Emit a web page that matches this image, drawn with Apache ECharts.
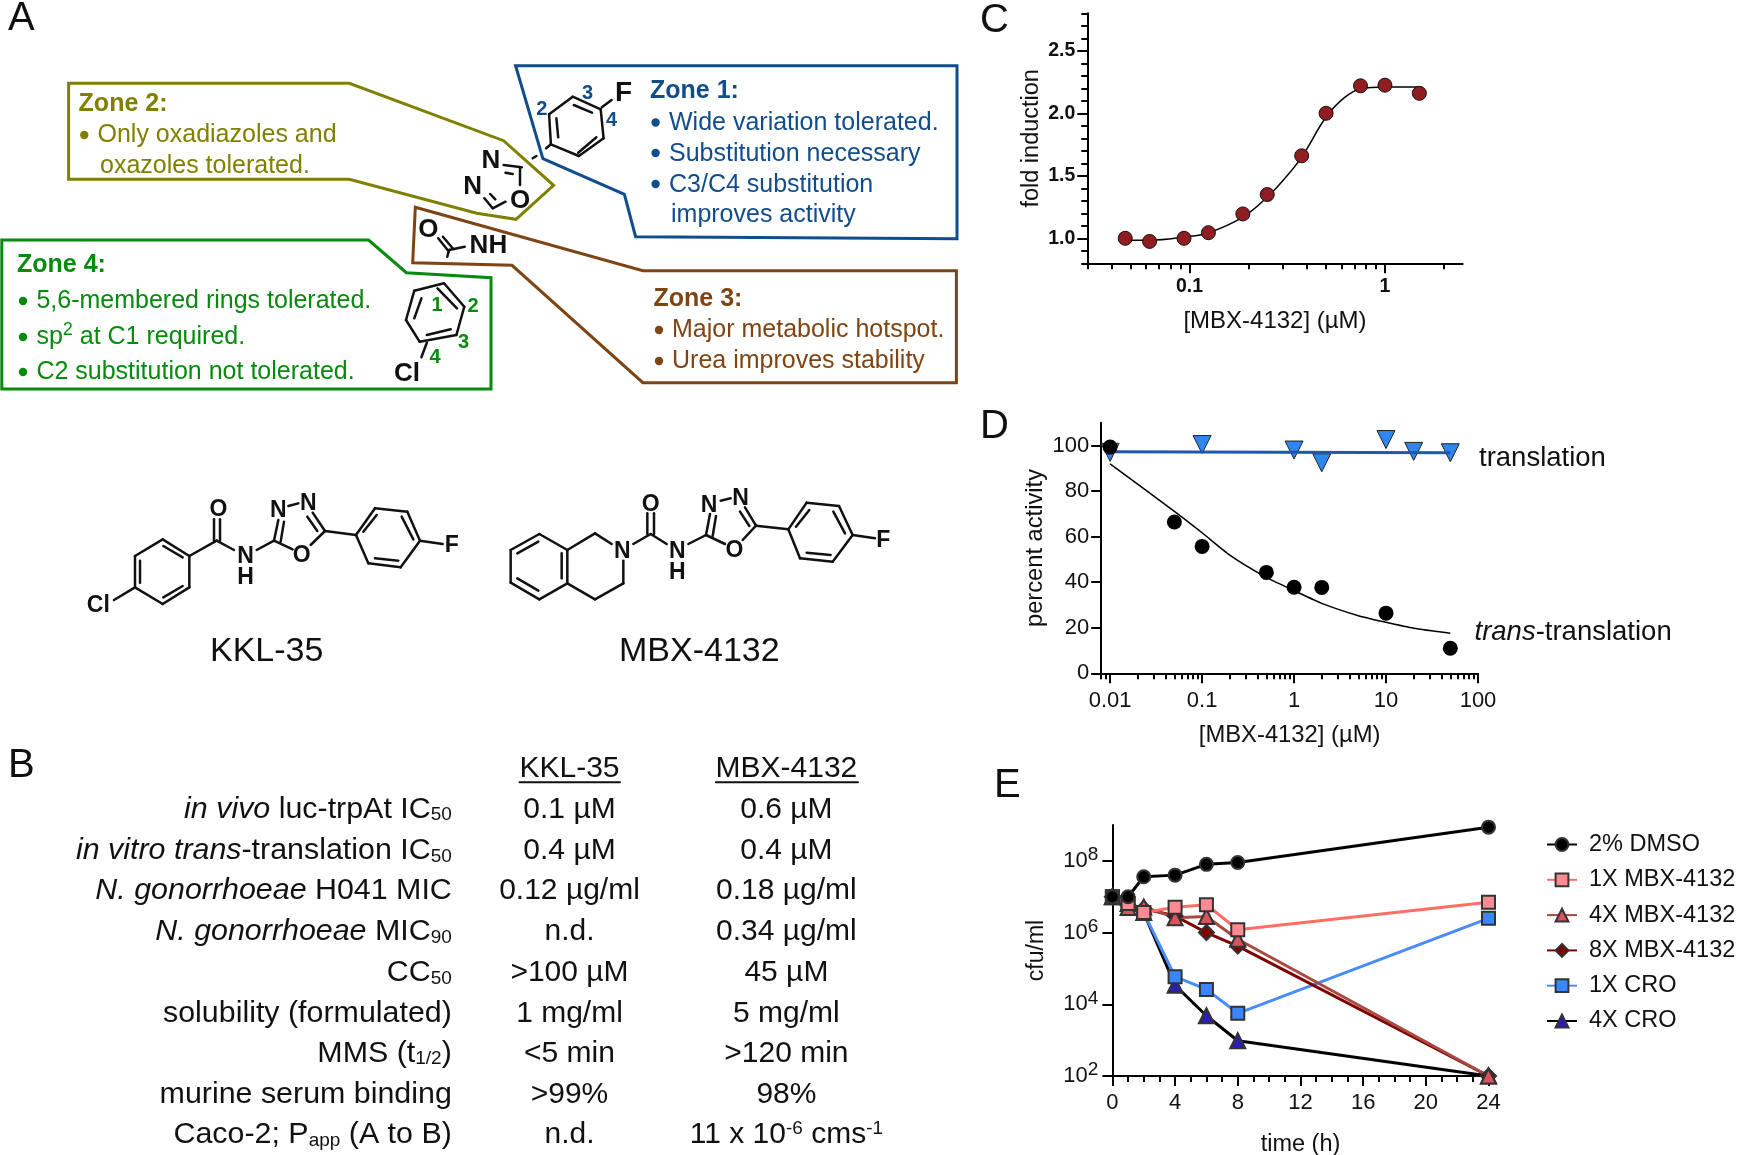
<!DOCTYPE html>
<html>
<head>
<meta charset="utf-8">
<style>html,body{margin:0;padding:0;background:#fff}#c{width:1738px;height:1155px}</style>
<script src="https://cdn.jsdelivr.net/npm/echarts@6/dist/echarts.min.js"></script>
</head>
<body>
<div id="c"></div>
<script>
// ---------- Panel C data ----------
const cDose = [0.0469,0.0625,0.09375,0.125,0.1875,0.25,0.375,0.5,0.75,1,1.5];
const cFold = [1.00,0.975,1.00,1.045,1.195,1.35,1.66,2.00,2.22,2.225,2.16];
const cFitDose = [0.0469,0.0625,0.09375,0.125,0.1875,0.25,0.3,0.375,0.5,0.62,0.75,1,1.5];
const cFitFold = [0.985,0.985,1.01,1.045,1.17,1.33,1.46,1.65,1.97,2.125,2.195,2.21,2.21];
const cXMajor = [0.1,1];
const cXMinor = [0.03,0.04,0.05,0.06,0.07,0.08,0.09,0.2,0.3,0.4,0.5,0.6,0.7,0.8,0.9,2];
const cYMajor = [1.0,1.5,2.0,2.5];
const cYMinor = [0.8,0.9,1.1,1.2,1.3,1.4,1.6,1.7,1.8,1.9,2.1,2.2,2.3,2.4,2.6,2.7,2.8];
// ---------- Panel D data ----------
const dTransDose = [0.01,0.05,0.1,0.5,1,2,10,50];
const dTransPct = [99.3,66.4,55.7,44.3,37.8,37.7,26.4,11];
const dFitDose = [0.01,0.05,0.1,0.2,0.5,1,2,5,10,20,50];
const dFitPct = [91.9,71.1,61.7,51.9,42.1,36.3,30.7,25.3,22.4,19.8,17.6];
const dTranslDose = [0.01,0.1,1,2,10,20,50];
const dTranslPct = [97,100.4,98,92.4,102.6,97.4,96.8];
const dTranslFitDose = [0.01,50];
const dTranslFitPct = [97.3,96.8];
const dXMajor = [0.01,0.1,1,10,100];
const dXMinor = [0.008,0.009,0.02,0.03,0.04,0.05,0.06,0.07,0.08,0.09,0.2,0.3,0.4,0.5,0.6,0.7,0.8,0.9,2,3,4,5,6,7,8,9,20,30,40,50,60,70,80,90];
const dYMajor = [0,20,40,60,80,100];
// ---------- Panel E data ----------
const eHours = [0,1,2,4,6,8,24];
const eDmso = [1e7,1e7,3.6e7,4e7,8e7,9e7,8.7e8];
const eMbx1 = [1e7,6.5e6,3.6e6,5.1e6,6e6,1.2e6,7e6];
const eMbx4 = [1e7,5e6,5.2e6,2.6e6,2.8e6,6.5e5,100];
const eMbx8 = [1e7,5.8e6,4.7e6,2.9e6,1e6,4.2e5,100];
const eCro1 = [1e7,6.5e6,3.6e6,5.9e4,2.6e4,5.6e3,2.5e6];
const eCro4 = [1e7,6.5e6,3.6e6,3.4e4,4.8e3,9.6e2,100];
const eLegend = ['2% DMSO','1X MBX-4132','4X MBX-4132','8X MBX-4132','1X CRO','4X CRO'];
const eXMajor = [0,4,8,12,16,20,24];
const eXMinor = [1,2,3,5,6,7,9,10,11,13,14,15,17,18,19,21,22,23];
const eYMajor = [1e2,1e4,1e6,1e8];
// ---------- Panel B table ----------
const tableHead = ['KKL-35','MBX-4132'];
const tableLabels = ['{i|in vivo} luc-trpAt IC{s|50}','{i|in vitro trans}-translation IC{s|50}','{i|N. gonorrhoeae} H041 MIC','{i|N. gonorrhoeae} MIC{s|90}','CC{s|50}','solubility (formulated)','MMS (t{s|1/2})','murine serum binding','Caco-2; P{s|app} (A to B)'];
const tableKkl = ['0.1 µM','0.4 µM','0.12 µg/ml','n.d.','>100 µM','1 mg/ml','<5 min','>99%','n.d.'];
const tableMbx = ['0.6 µM','0.4 µM','0.18 µg/ml','0.34 µg/ml','45 µM','5 mg/ml','>120 min','98%','11 x 10{u|-6} cms{u|-1}'];

// ---------- drawing helpers ----------
const FF = "'Liberation Sans', Arial, sans-serif";
const INK = '#111';
const gfx = [];
function T(text,x,y,o){o=o||{};
  gfx.push({type:'text',x:x,y:y+(o.dy===undefined?2:o.dy),silent:true,z:20,style:{text:text,
    font:(o.italic?'italic ':'')+(o.bold?'bold ':'')+(o.size||25)+'px '+FF,
    fill:o.color||INK,align:o.align||'left',verticalAlign:'middle',rich:o.rich}});
}
function L(x1,y1,x2,y2,c,w){gfx.push({type:'line',silent:true,z:15,shape:{x1,y1,x2,y2},style:{stroke:c||INK,lineWidth:w||2.5,lineCap:'round'}});}
function P(points,c){gfx.push({type:'polygon',silent:true,z:10,shape:{points},style:{fill:'none',stroke:c,lineWidth:3,lineJoin:'miter'}});}
function D(x,y,c){gfx.push({type:'circle',silent:true,z:20,shape:{cx:x,cy:y,r:4.2},style:{fill:c}});}
function ring(v,c,w){for(let i=0;i<v.length;i++){const a=v[i],b=v[(i+1)%v.length];L(a[0],a[1],b[0],b[1],c,w);}}

// ---------- Panel letters ----------
const letterSize = 40;
[['A',8,16],['B',8,763],['C',980,18],['D',980,424],['E',994,783]].forEach(a=>T(a[0],a[1],a[2],{size:letterSize,dy:3}));

// ---------- Panel A zones ----------
const OLIVE='#808000',GREEN='#078a0e',BROWN='#7f4413',BLUE='#114c8b';
P([[68.6,83.3],[349.3,83.3],[503.6,140.7],[553.6,185.3],[516,219.3],[476.8,213.3],[349.3,179.3],[68.6,179.3]],OLIVE);
P([[1.8,240],[368.6,240],[406.4,272.7],[491,277.7],[491,389],[1.8,389]],GREEN);
P([[415.3,207.3],[642.9,270.7],[956.4,270.7],[956.4,382.7],[642.9,382.7],[512,265.3],[412.7,262.7]],BROWN);
P([[515.6,65.7],[957,65.7],[957,238.7],[635.6,236.7],[624.4,194.3],[542.9,158.7]],BLUE);

T('Zone 2:',78.6,101.7,{bold:true,color:OLIVE});
D(84.3,135,OLIVE);T('Only oxadiazoles and',97.5,133.3,{color:OLIVE});T('oxazoles tolerated.',100,164,{color:OLIVE});

T('Zone 4:',17,263.3,{bold:true,color:GREEN});
D(23,301,GREEN);T('5,6-membered rings tolerated.',36.4,299.3,{color:GREEN});
D(23,337,GREEN);T('sp{u|2} at C1 required.',36.4,335,{color:GREEN,rich:{u:{font:'18px '+FF,padding:[0,0,14,0]}}});
D(23,372,GREEN);T('C2 substitution not tolerated.',36.4,370,{color:GREEN});

T('Zone 3:',653.5,296.7,{bold:true,color:BROWN});
D(659,330,BROWN);T('Major metabolic hotspot.',672,328.3,{color:BROWN});
D(659,361,BROWN);T('Urea improves stability',672,359.3,{color:BROWN});

T('Zone 1:',650,89.3,{bold:true,color:BLUE});
D(655.6,122.5,BLUE);T('Wide variation tolerated.',669,121,{color:BLUE});
D(655.6,153,BLUE);T('Substitution necessary',669,151.7,{color:BLUE});
D(655.6,184,BLUE);T('C3/C4 substitution',669,182.7,{color:BLUE});
T('improves activity',671,214,{color:BLUE,dy:1});

// Zone 1 fragment
ring([[549.1,114.3],[572.7,96.7],[600.7,109.3],[603.6,138.3],[578.9,156],[550.9,144.3]]);
L(573.8,105,592,112.7);L(556.4,118.3,558.2,137.3);L(578.2,152.7,596.4,137.3);L(601.8,107.3,611.6,100);L(550.9,144.3,546.2,148.3);L(532.7,158.3,536.4,156);
T('F',623.6,91,{bold:true,size:28,align:'center'});
T('3',587.6,91.7,{bold:true,size:20,color:BLUE,align:'center'});T('2',541.8,107.3,{bold:true,size:20,color:BLUE,align:'center'});T('4',611.6,118.3,{bold:true,size:20,color:BLUE,align:'center'});
// Zone 2 fragment
L(503.6,165,521.8,167.3);L(505.5,172.7,512.7,174);L(520,167.3,520,185);L(505.5,201.7,492.7,208.3);L(492.7,208.3,484.4,198.3);L(490.2,194,495.3,199.3);
T('N',490.9,159.3,{bold:true,size:26,align:'center'});T('N',472.7,185,{bold:true,size:26,align:'center'});T('O',520,199,{bold:true,size:26,align:'center'});
// Zone 3 fragment
L(449,251.7,438.2,238.3);L(442.9,236.7,452.7,248.3);L(449,250,464.7,246.7);L(449,250,447.3,256.7);
T('O',428.4,228.3,{bold:true,size:26,align:'center'});T('NH',488.4,244,{bold:true,size:26,align:'center'});
// Zone 4 fragment
ring([[444,283.3],[464.3,306.7],[456.4,335],[419.6,341.7],[406,320],[414.3,290.7]]);
L(437.5,288.3,457,308.3);L(426.8,335,450.7,329.3);L(421.4,298.3,414.3,318.3);L(426.8,342.7,421.4,357.3);
T('Cl',407,371.7,{bold:true,size:26,align:'center'});
T('1',437,303,{bold:true,size:20,color:GREEN,align:'center'});T('2',473,304,{bold:true,size:20,color:GREEN,align:'center'});T('3',463.6,340,{bold:true,size:20,color:GREEN,align:'center'});T('4',435,355,{bold:true,size:20,color:GREEN,align:'center'});

// ---------- Structures (3x crop coordinates scaled back) ----------
function S(ox,oy){return{
  l:(a,b,c,d)=>L(ox+a/3,oy+b/3,ox+c/3,oy+d/3),
  r:(v)=>ring(v.map(p=>[ox+p[0]/3,oy+p[1]/3])),
  t:(s,a,b)=>T(s,ox+a/3,oy+b/3,{bold:true,size:23,align:'center'})
};}
const k=S(70,470);
k.r([[195,258],[278,208],[358,258],[358,352],[278,402],[195,352]]);
k.l(210,272,210,338);k.l(280,228,338,262);k.l(280,382,338,348);k.l(195,352,132,390);k.t('Cl',85,400);
k.l(358,258,440,212);k.l(432,212,432,148);k.l(450,212,450,148);k.t('O',445,113);
k.l(440,212,492,240);k.t('N',527,255);k.t('H',527,318);k.l(560,240,612,212);
k.l(612,212,625,150);k.l(632,215,642,155);k.t('N',625,115);k.l(655,108,685,100);k.t('N',715,95);
k.l(765,183,728,128);k.l(742,183,712,140);k.l(765,183,722,225);k.t('O',695,250);k.l(612,212,668,238);
k.l(765,183,858,195);
k.r([[858,195],[915,115],[1012,125],[1050,212],[992,292],[895,280]]);
k.l(880,185,920,135);k.l(995,140,1030,208);k.l(915,265,985,272);k.l(1050,212,1118,222);k.t('F',1145,222);
T('KKL-35',70+590/3,470+540/3,{size:34,align:'center'});

const m=S(490,470);
m.r([[62,240],[148,192],[232,240],[232,340],[148,388],[62,338]]);
m.l(82,250,145,215);m.l(215,250,215,325);m.l(82,325,145,362);
m.l(232,240,315,190);m.l(315,190,365,222);m.t('N',397,240);m.l(400,272,400,340);m.l(400,340,315,388);m.l(315,388,232,340);
m.l(430,222,482,192);m.l(472,192,472,130);m.l(492,192,492,130);m.t('O',482,97);
m.l(482,192,530,222);m.t('N',562,240);m.t('H',562,303);m.l(595,222,648,195);
m.l(648,195,660,132);m.l(668,198,678,138);m.t('N',657,100);m.l(692,92,722,85);m.t('N',752,80);
m.l(798,167,765,112);m.l(778,168,750,125);m.l(798,167,758,210);m.t('O',733,235);m.l(648,195,705,222);
m.l(798,167,895,178);
m.r([[895,178],[950,98],[1047,108],[1088,195],[1028,275],[930,265]]);
m.l(918,170,958,120);m.l(1030,125,1065,190);m.l(950,248,1022,255);m.l(1088,195,1155,205);m.t('F',1180,205);
T('MBX-4132',490+628/3,470+540/3,{size:34,align:'center'});

// ---------- Panel B table ----------
const tblRich={i:{font:'italic 30.4px '+FF},s:{font:'19px '+FF,padding:[11,0,0,0]},u:{font:'19px '+FF,padding:[0,0,13,0]}};
const rowY=[808.5,850,890,931,972,1012.7,1052.7,1093.3,1134];
const colX=[569.5,786.4];
T(tableHead[0],colX[0],767.3,{size:30,align:'center',dy:1});T(tableHead[1],colX[1],767.3,{size:30,align:'center',dy:1});
L(519.5,782.3,620,782.3,INK,2);L(715.9,782.3,858,782.3,INK,2);
tableLabels.forEach((s,i)=>{
  T(s,451.8,rowY[i],{size:30.4,align:'right',rich:tblRich,dy:1});
  T(tableKkl[i],colX[0],rowY[i],{size:30,align:'center',rich:tblRich,dy:1});
  T(tableMbx[i],colX[1],rowY[i],{size:30,align:'center',rich:tblRich,dy:1});
});
// ---------- Panel D annotations ----------
T('translation',1479,456.7,{size:27.5});
T('{i|trans}-translation',1474.5,630,{size:27.5,rich:{i:{font:'italic 27.5px '+FF}}});

// ---------- axes ----------
const line={show:true,onZero:false,lineStyle:{color:'#000',width:2}};
function tick(vals,len){return{show:true,length:len,customValues:vals,lineStyle:{color:'#000',width:2}};}
function major(o){return Object.assign({splitLine:{show:false},axisLine:line,nameLocation:'middle',
  nameTextStyle:{fontFamily:FF,color:INK}},o);}
function minor(o){return Object.assign({splitLine:{show:false},axisLine:{show:false,onZero:false},axisLabel:{show:false}},o);}
function lbl(vals,size,margin,bold,extra){return Object.assign({show:true,customValues:vals,fontFamily:FF,fontSize:size,margin:margin,color:INK,
  fontWeight:bold?'bold':'normal',hideOverlap:false,showMinLabel:true,showMaxLabel:true},extra||{});}

const xAxis=[
 major({gridIndex:0,type:'log',logBase:10,min:0.03,max:2.5,position:'bottom',axisTick:tick(cXMajor,10),
   axisLabel:lbl(cXMajor,19.5,13.5,true,{formatter:v=>String(v)}),name:'[MBX-4132] (µM)',nameGap:46,nameTextStyle:{fontFamily:FF,color:INK,fontSize:24}}),
 minor({gridIndex:0,type:'log',logBase:10,min:0.03,max:2.5,position:'bottom',axisTick:tick(cXMinor,6)}),
 major({gridIndex:1,type:'log',logBase:10,min:0.008,max:100,position:'bottom',axisTick:tick(dXMajor,10),
   axisLabel:lbl(dXMajor,22,17,false,{formatter:v=>String(v)}),name:'[MBX-4132] (µM)',nameGap:50,nameTextStyle:{fontFamily:FF,color:INK,fontSize:23.8}}),
 minor({gridIndex:1,type:'log',logBase:10,min:0.008,max:100,position:'bottom',axisTick:tick(dXMinor,6)}),
 major({gridIndex:2,type:'value',min:0,max:24,position:'bottom',axisTick:tick(eXMajor,10),
   axisLabel:lbl(eXMajor,22,15.7,false),name:'time (h)',nameGap:57,nameTextStyle:{fontFamily:FF,color:INK,fontSize:23.5}}),
 minor({gridIndex:2,type:'value',min:0,max:24,position:'bottom',axisTick:tick(eXMinor,6)})
];
const yAxis=[
 major({gridIndex:0,type:'value',min:0.8,max:2.8,position:'left',axisTick:tick(cYMajor,10),
   axisLabel:lbl(cYMajor,19.5,12,true,{formatter:v=>v.toFixed(1)}),name:'fold induction',nameGap:44,nameTextStyle:{fontFamily:FF,color:INK,fontSize:23.5}}),
 minor({gridIndex:0,type:'value',min:0.8,max:2.8,position:'left',axisTick:tick(cYMinor,6)}),
 major({gridIndex:1,type:'value',min:0,max:110,position:'left',axisTick:tick(dYMajor,10),
   axisLabel:lbl(dYMajor,22,12,false),name:'percent activity',nameGap:54,nameTextStyle:{fontFamily:FF,color:INK,fontSize:23.7}}),
 major({gridIndex:2,type:'log',logBase:10,min:100,max:1e9,position:'left',axisTick:tick(eYMajor,10),
   axisLabel:lbl(eYMajor,22,14,false,{formatter:v=>'{b|10}{s|'+Math.round(Math.log10(v))+'}',
     rich:{b:{fontFamily:FF,fontSize:22,color:INK},s:{fontFamily:FF,fontSize:19,color:INK,padding:[0,0,12,0]}}}),
   name:'cfu/ml',nameGap:64,nameTextStyle:{fontFamily:FF,color:INK,fontSize:23}})
];
const zip=(a,b)=>a.map((v,i)=>[v,b[i]]);
const eSeries=(name,data,symbol,size,fill,stroke)=>({type:'line',name,xAxisIndex:4,yAxisIndex:3,data:zip(eHours,data),clip:false,
  symbol,symbolSize:size,showAllSymbol:true,lineStyle:{color:stroke,width:3},itemStyle:{color:fill,borderColor:'#333',borderWidth:2}});
const series=[
 {type:'line',xAxisIndex:0,yAxisIndex:0,data:zip(cFitDose,cFitFold),smooth:0.4,symbol:'none',lineStyle:{color:'#000',width:1.5},clip:false},
 {type:'scatter',xAxisIndex:0,yAxisIndex:0,data:zip(cDose,cFold),symbol:'circle',symbolSize:14,itemStyle:{color:'#8f1d21',borderColor:'#111',borderWidth:1,opacity:1},clip:false,z:5},
 {type:'scatter',xAxisIndex:2,yAxisIndex:2,data:zip(dTranslDose,dTranslPct),symbol:'triangle',symbolRotate:180,symbolSize:[18,18],itemStyle:{color:'#2f86f0',borderColor:'#222',borderWidth:1,opacity:1},clip:false,z:3},
 {type:'line',xAxisIndex:2,yAxisIndex:2,data:zip(dTranslFitDose,dTranslFitPct),symbol:'none',lineStyle:{color:'#1f56b0',width:3},clip:false,z:4},
 {type:'line',xAxisIndex:2,yAxisIndex:2,data:zip(dFitDose,dFitPct),smooth:0.2,symbol:'none',lineStyle:{color:'#000',width:1.5},clip:false,z:4},
 {type:'scatter',xAxisIndex:2,yAxisIndex:2,data:zip(dTransDose,dTransPct),symbol:'circle',symbolSize:15,itemStyle:{color:'#000',opacity:1},clip:false,z:5},
 eSeries(eLegend[5],eCro4,'triangle',15,'#2a1fb0','#000'),
 eSeries(eLegend[4],eCro1,'rect',13,'#3a86ff','#4a8cff'),
 eSeries(eLegend[3],eMbx8,'diamond',15,'#800000','#800000'),
 eSeries(eLegend[2],eMbx4,'triangle',15,'#d9535f','#a84a40'),
 eSeries(eLegend[1],eMbx1,'rect',13,'#ff8a94','#ff6e66'),
 eSeries(eLegend[0],eDmso,'circle',13,'#000','#000')
];
const chart=echarts.init(document.getElementById('c'),null,{renderer:'canvas',width:1738,height:1155});
chart.setOption({
  animation:false,backgroundColor:'#fff',
  grid:[
   {left:1087.3,top:13.3,width:375.4,height:250,containLabel:false,outerBoundsMode:'none'},
   {left:1101.2,top:422.7,width:376.8,height:250.6,containLabel:false,outerBoundsMode:'none'},
   {left:1112.4,top:825,width:376.1,height:251,containLabel:false,outerBoundsMode:'none'}],
  xAxis:xAxis,yAxis:yAxis,series:series,
  legend:{orient:'vertical',left:1546,top:832.5,padding:0,itemWidth:30,itemHeight:16,itemGap:11.3,selectedMode:false,data:eLegend,
    textStyle:{fontFamily:FF,fontSize:23.5,color:INK,padding:[0,0,0,7]}},
  graphic:{elements:gfx}
});
</script>
</body>
</html>
